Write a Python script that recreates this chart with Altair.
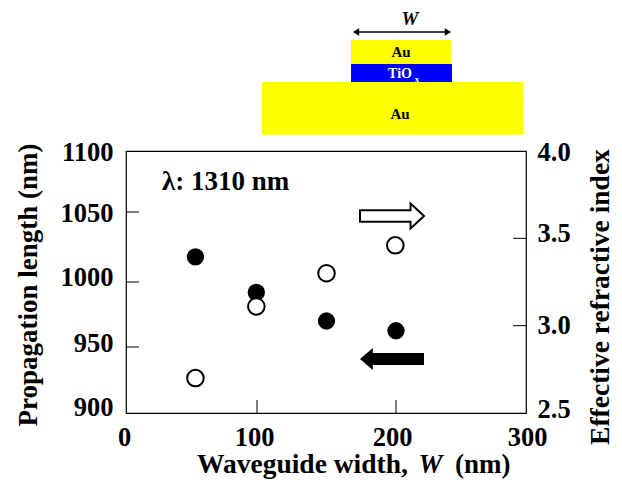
import altair as alt
import pandas as pd

width_nm = [53, 99.5, 150, 200]
length_nm = [1018, 992, 970, 962.5]
neff_w = [53, 99.5, 150, 199.5]
neff = [2.70, 3.11, 3.30, 3.46]
x_tick_values = [100, 200]
left_ticks = [950, 1000, 1050]
right_ticks = [3.0, 3.5]

W, H = 400, 262
L, T = 118, 143
FONT = "Liberation Serif"


def px(x):
    return x - 8 - L


def py(y):
    return y - 8 - T


def nudge(pairs):
    """Per-label shift along the axis, as the hand-set labels of the figure sit off their ticks."""
    return {"condition": [{"test": f"datum.value == {k}", "value": v} for k, v in pairs], "value": 0}


one = alt.Data(values=[{}])


def rect(x1, x2, y1, y2, color):
    return alt.Chart(one).mark_rect(color=color).encode(
        x=alt.value(px(x1)), x2=alt.value(px(x2)), y=alt.value(py(y1)), y2=alt.value(py(y2)))


def text(s, x, y, size, align="center", color="black", style="normal"):
    return alt.Chart(one).mark_text(text=s, font=FONT, fontSize=size, fontWeight="bold", fontStyle=style,
                                    align=align, baseline="middle", color=color).encode(
        x=alt.value(px(x)), y=alt.value(py(y)))


def symbol(shape, x, y, size, fill, stroke, sw=0):
    return alt.Chart(one).mark_point(shape=shape, size=size, filled=True, fill=fill, stroke=stroke,
                                     strokeWidth=sw, opacity=1).encode(
        x=alt.value(px(x)), y=alt.value(py(y)))


RIGHT_ARROW = "M-1,-0.18 L0.58,-0.18 L0.58,-0.39 L1,0 L0.58,0.39 L0.58,0.18 L-1,0.18 Z"
LEFT_ARROW = "M1,-0.19 L-0.6,-0.19 L-0.6,-0.34 L-1,0 L-0.6,0.34 L-0.6,0.19 L1,0.19 Z"

axis_text = dict(labelFont=FONT, labelFontSize=26.5, labelFontWeight="bold", labelColor="black",
                 ticks=False, domain=False, grid=False)
title_text = dict(titleFont=FONT, titleFontWeight="bold", titleColor="black",
                  titleAngle=270, titleBaseline="middle", titleAlign="center")

x_enc = alt.X("w:Q", scale=alt.Scale(domain=[0, 100, 200, 300], range=[0, 131, 270, 400]),
              axis=alt.Axis(values=[0, 100, 200, 300], labelPadding=11, title=None, labelFlush=False,
                            labelOffset=nudge([(0, -2), (100, -3), (200, -4), (300, 1)]), **axis_text))
y_left = alt.Y("v:Q", scale=alt.Scale(domain=[900, 950, 1000, 1050, 1100], range=[262, 196, 131, 61, 0]),
               axis=alt.Axis(orient="left", values=[900, 950, 1000, 1050, 1100], format="d", labelPadding=13,
                             labelOffset=nudge([(900, -6), (950, -3.5), (1000, -4.5), (1050, 1), (1100, 1.5)]),
                             title="Propagation length (nm)", titleFontSize=27, titleX=-98, titleY=133.5,
                             **axis_text, **title_text))
y_right = alt.Y("v:Q", scale=alt.Scale(domain=[2.5, 4.0], nice=False, zero=False),
                axis=alt.Axis(orient="right", values=[2.5, 3.0, 3.5, 4.0], format=".1f", labelPadding=11,
                              labelOffset=nudge([(2.5, -3.7), (3.5, -4.5), (4, 1.5)]),
                              title="Effective refractive index", titleFontSize=27.5, titleX=74, titleY=145.5,
                              **axis_text, **title_text))

left_df = pd.DataFrame({"w": width_nm, "v": length_nm})
right_df = pd.DataFrame({"w": neff_w, "v": neff})

x_tick_rules = alt.Chart(pd.DataFrame({"w": x_tick_values})).mark_rule(color="black", strokeWidth=1).encode(
    x=x_enc, y=alt.value(H), y2=alt.value(H - 13))
left_tick_rules = alt.Chart(pd.DataFrame({"v": left_ticks})).mark_rule(color="black", strokeWidth=1).encode(
    x=alt.value(0), x2=alt.value(13), y=y_left)
filled = alt.Chart(left_df).mark_point(filled=True, color="black", size=300, opacity=1).encode(x=x_enc, y=y_left)
right_tick_rules = alt.Chart(pd.DataFrame({"v": right_ticks})).mark_rule(color="black", strokeWidth=1).encode(
    x=alt.value(W - 13), x2=alt.value(W), y=y_right)
hollow = alt.Chart(right_df).mark_point(filled=True, fill="white", stroke="black", strokeWidth=2, size=275,
                                        opacity=1).encode(x=x_enc, y=y_right)

left_layer = alt.layer(x_tick_rules, left_tick_rules, filled)
right_layer = alt.layer(right_tick_rules, hollow)

annot = alt.layer(
    rect(351, 452, 64, 82, "#0000ff"),
    text("x", 417, 79, 9, color="white"),
    rect(262, 523, 82, 134.5, "#ffff00"),
    rect(351, 451, 40, 64, "#ffff00"),
    text("Au", 401, 52, 15),
    text("Au", 400, 114, 15),
    text("TiO", 400, 74, 14, color="white"),
    text("W", 410, 19, 19, style="italic"),
    alt.Chart(one).mark_rule(color="black", strokeWidth=1.5).encode(
        x=alt.value(px(354)), x2=alt.value(px(449)), y=alt.value(py(32))),
    symbol("triangle-left", 356, 32, 55, "black", "black"),
    symbol("triangle-right", 448, 32, 55, "black", "black"),
    text("\u03bb: 1310 nm", 162, 182, 27, align="left"),
    symbol(RIGHT_ARROW, 392, 216, 4096, "white", "black", 2),
    symbol(LEFT_ARROW, 392, 359, 4096, "black", "black", 0),
    text("Waveguide width,", 197, 465, 27.5, align="left"),
    text("W", 430.5, 465, 27, style="italic"),
    text("(nm)", 455, 465, 27, align="left"),
)

chart = alt.layer(left_layer, right_layer, annot).resolve_scale(y="independent").properties(
    width=W, height=H,
    autosize=alt.AutoSizeParams(type="none"),
    padding={"left": L, "top": T, "right": 606 - L - W, "bottom": 471 - T - H},
    background="white",
).configure_view(stroke="black", strokeWidth=1.2)

chart.save("out.html", embed_options={"renderer": "svg", "actions": False})
